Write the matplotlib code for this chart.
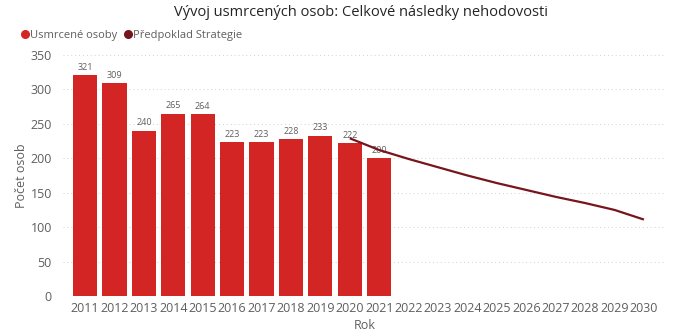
import matplotlib
matplotlib.use('Agg')
import matplotlib.pyplot as plt
from matplotlib.lines import Line2D

plt.rcParams['font.family'] = ['Open Sans', 'DejaVu Sans']

years = [2011, 2012, 2013, 2014, 2015, 2016, 2017, 2018, 2019, 2020, 2021,
         2022, 2023, 2024, 2025, 2026, 2027, 2028, 2029, 2030]
deaths_years = [2011, 2012, 2013, 2014, 2015, 2016, 2017, 2018, 2019, 2020, 2021]
deaths = [321, 309, 240, 265, 264, 223, 223, 228, 233, 222, 200]
strat_years = [2020, 2021, 2022, 2023, 2024, 2025, 2026, 2027, 2028, 2029, 2030]
strategy = [229, 212, 199, 187, 175, 164, 154, 144, 135, 125, 111]

bar_col = '#D42525'
line_col = '#76161C'
txt_col = '#605E5C'

fig = plt.figure(figsize=(6.74, 3.32), dpi=100)
ax = fig.add_axes([63/674, 36/332, 603/674, 241/332])

pos = {y: i for i, y in enumerate(years)}
bx = [pos[y] for y in deaths_years]
ax.bar(bx, deaths, width=0.82, color=bar_col, zorder=2)
for x, v in zip(bx, deaths):
    ax.text(x, v + 5, str(v), ha='center', va='bottom', fontsize=6.5, color=txt_col, zorder=3)

lx = [pos[y] for y in strat_years]
ax.plot(lx, strategy, color=line_col, lw=1.6, zorder=4, solid_capstyle='butt')

ax.set_xlim(-0.75, len(years) - 0.25)
ax.set_ylim(0, 350)
ax.set_yticks(range(0, 351, 50))
ax.set_xticks(range(len(years)))
ax.set_xticklabels([str(y) for y in years])
ax.grid(axis='y', color='#D0D0D0', linestyle=(0, (1, 3)), lw=0.7, zorder=0)
for s in ax.spines.values():
    s.set_visible(False)
ax.tick_params(length=0, labelsize=9, colors=txt_col, pad=4)
ax.tick_params(axis='y', pad=8)
ax.set_xlabel('Rok', fontsize=9, color=txt_col, labelpad=3)
ax.set_ylabel('Počet osob', fontsize=9, color=txt_col, labelpad=2)

fig.text(0.535, 0.963, 'Vývoj usmrcených osob: Celkové následky nehodovosti',
         ha='center', va='center', fontsize=10.5, color='#252423')

handles = [Line2D([], [], marker='o', ls='', color=bar_col, markersize=5.5),
           Line2D([], [], marker='o', ls='', color=line_col, markersize=5.5)]
fig.legend(handles, ['Usmrcené osoby', 'Předpoklad Strategie'], loc='center left',
           bbox_to_anchor=(0.012, 0.893), ncol=2, frameon=False, fontsize=8,
           handletextpad=-0.1, columnspacing=0.3, labelcolor=txt_col, handlelength=1.2)

fig.savefig('out.png', dpi=100)
